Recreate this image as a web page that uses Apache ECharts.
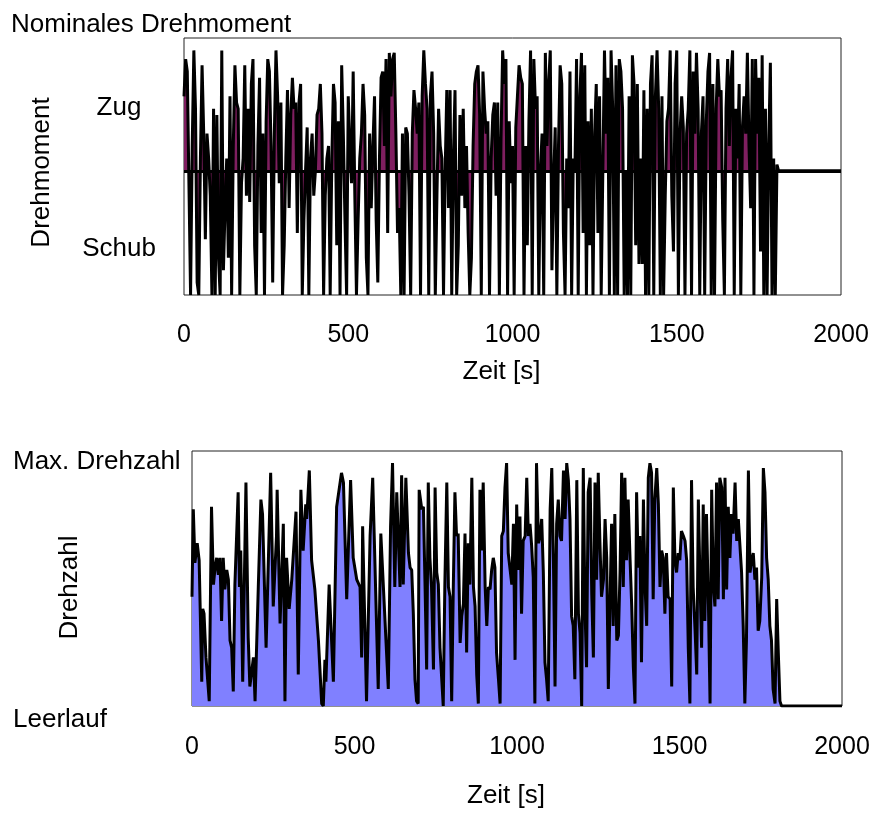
<!DOCTYPE html>
<html>
<head>
<meta charset="utf-8">
<script src="https://cdn.jsdelivr.net/npm/echarts@6/dist/echarts.min.js"></script>
<style>
html,body{margin:0;padding:0;background:#fff;}
#c{width:875px;height:814px;}
</style>
</head>
<body>
<div id="c"></div>
<script>
// ---------- data ----------
const chartTitle = 'Nominales Drehmoment';
const xTicks = [0, 500, 1000, 1500, 2000];
const xName = 'Zeit [s]';
const torqueName = 'Drehmoment';
const speedName = 'Drehzahl';
const torqueLabels = ['Zug', 'Schub'];
const torqueLabelValues = [0.51, -0.63];
const speedLabels = ['Max. Drehzahl', 'Leerlauf'];

// torque, sampled every 5 s from 0 s to 1810 s
const torqueStep = 5;
const torqueValues = [
 0.6,0.9,0.8,-0.1,-1,0.2,0.97,0.5,-0.9,-1,
 0.1,0.85,0.3,-0.55,0.3,0.1,-0.2,-1,0.5,-1,
 0.45,-0.7,-1,0.97,-0.8,-0.3,0.1,-0.7,0.6,-1,
 0.2,0.85,0.55,0.5,-1,-0.1,0.1,0.85,-0.2,0.5,
 -0.25,0.7,0.9,-0.6,-1,0.2,0.75,-0.5,0.3,-1,
 0.4,0.9,0.8,0.2,-0.9,0.3,0.97,0.6,-0.1,0.55,
 -1,-0.6,0.1,0.65,-0.3,0.45,0.75,0.5,0.55,-0.5,
 0.55,0.7,-1,-0.4,0.0,0.35,-1,0.1,0.3,-0.2,
 0.0,0.45,0.5,0.7,0.3,-1,-0.2,0.1,0.2,-1,
 0.1,0.7,0.55,-0.6,0.4,-1,0.85,0.3,-0.4,-1,
 0.6,0.2,-0.1,0.8,-0.2,-1,-0.4,0.1,0.3,0.7,
 0.45,-0.7,-1,0.3,-0.3,0.2,0.6,-0.4,-0.9,0.1,
 0.75,0.8,0.2,0.9,-0.5,0.95,0.6,0.9,0.95,0.3,
 -0.5,-0.3,-1,0.3,
 -1,0.35,0.3,-0.2,-1,0.3,0.65,0.5,0.3,0.55,
 -1,0.6,0.97,0.7,0.5,-1,0.6,0.8,0.3,-1,
 -0.2,0.5,0.2,0.1,-1,0.0,0.65,-0.3,0.65,-1,
 0.1,0.65,-1,-0.6,0.45,-0.2,0.5,-0.3,0.2,-0.5,
 -1,-0.7,0.2,0.7,0.8,0.85,0.45,-1,0.8,0.5,
 0.3,0.4,-1,0.1,0.45,0.55,-0.2,0.55,-1,0.25,
 0.97,0.7,0.9,-1,0.4,-0.1,0.2,-1,0.35,0.6,
 0.85,0.75,0.7,-1,0.2,-0.6,0.4,0.97,-1,0.9,
 0.5,0.6,-1,0.0,0.3,-1,0.95,0.2,0.7,0.97,
 -0.8,-0.1,0.35,-1,0.2,0.85,0.7,-0.5,-1,0.1,
 -0.3,0.8,-1,0.1,0.0,0.9,-1,0.6,0.95,-0.5,
 0.85,-1,0.4,-0.6,0.5,-1,0.3,0.7,-0.5,0.6,
 -1,0.0,0.97,0.3,0.75,-1,0.97,0.5,-1,0.85,
 -1,0.9,0.8,0.5,-1,0.0,-1,0.6,-1,0.93,
 0.7,-0.6,0.7,-0.75,0.1,-0.75,0.65,-1,0.5,-1,
 0.7,0.93,-1,0.6,0.97,0.5,-1,0.6,-1,-0.2,
 0.4,0.5,0.97,-0.2,-0.65,0.7,0.97,-1,0.3,0.6,
 0.35,-1,0.3,0.5,0.97,-1,0.8,0.3,0.95,0.5,
 -1,0.3,0.6,-1,0.4,0.8,0.95,-1,0.7,-1,
 0.5,0.9,0.6,0.65,-0.4,-1,0.5,0.9,0.2,0.75,
 0.97,-1,0.5,0.1,0.7,-1,0.35,0.6,0.3,0.95,
 0.2,-0.3,0.9,-1,0.9,0.3,0.75,-0.65,0.93,-1,
 0.5,-1,0.2,0.87,-1,0.1,-1,0.05,0
];
const torqueTailTime = [2000];
const torqueTailValue = [0];

// speed (times in s, values relative: 0 = idle, 1 = max)
const speedTime = [
 0,4,9,16,22,30,33,37,43,53,60,66,71,76,81,86,91,96,101,107,
 112,117,122,127,132,142,146,150,156,166,173,178,184,189,194,204,212,217,228,242,
 250,260,262,271,276,281,286,291,299,307,320,327,335,342,350,353,361,368,378,389,
 399,404,409,412,422,435,445,460,466,476,488,496,507,517,522,525,537,548,556,573,
 581,604,611,617,624,630,
 640,645,650,658,666,671,676,681,686,691,696,699,707,712,717,722,727,732,737,743,
 748,753,758,763,773,778,784,789,794,799,804,809,814,819,825,830,835,840,845,850,
 855,861,866,871,876,881,886,891,896,902,907,912,917,922,927,932,937,943,948,953,
 958,963,968,973,984,989,994,999,1004,1009,1014,1019,1025,1030,1035,1040,1045,1050,1055,1060,
 1066,1071,1076,1081,1086,1091,1096,1102,1107,1112,1117,1122,1127,1132,1137,1143,1148,1153,1158,1163,
 1168,1173,1178,1184,1189,1194,1199,1204,1209,1214,1219,1225,1230,1235,1240,1245,1250,1255,1260,1266,
 1271,1276,1281,
 1286,1291,1296,1301,1307,1312,1317,1322,1327,1332,1337,1342,1348,1353,1358,1363,1368,1373,1378,1383,
 1389,1394,1399,1404,1409,1414,1419,1424,1430,1435,1440,1445,1450,1455,1460,1465,1471,1476,1481,1486,
 1491,1496,1501,1506,1512,1517,1522,1527,1532,1537,1542,1548,1553,1558,1563,1568,1573,1578,1583,1589,
 1594,1599,1604,1609,1614,1619,1624,1630,1635,1640,1645,1650,1655,1660,1665,1671,1676,1681,1686,1691,
 1696,1701,1706,1712,1717,1722,1727,1732,1737,1742,1747,1753,1758,1763,1768,1773,1778,1783,1788,1794,
 1799,1804,1809,1814,2000
];
const speedValue = [
 0.45,0.81,0.59,0.67,0.6,0.1,0.4,0.38,0.2,0.02,0.82,0.5,0.57,0.61,0.54,0.61,0.35,0.61,0.48,0.56,
 0.52,0.27,0.24,0.06,0.5,0.88,0.49,0.64,0.1,0.92,0.28,0.08,0.08,0.2,0.02,0.49,0.85,0.79,0.24,0.96,
 0.41,0.7,0.89,0.34,0.54,0.75,0.02,0.61,0.4,0.52,0.8,0.13,0.89,0.64,0.83,0.77,0.97,0.6,0.48,0.27,
 0.01,0.0,0.19,0.1,0.5,0.1,0.82,0.96,0.92,0.44,0.93,0.61,0.52,0.49,0.2,0.74,0.02,0.7,0.94,0.07,
 0.71,0.07,0.74,1.0,0.49,0.88,
 0.49,0.95,0.5,0.94,0.63,0.57,0.56,0.38,0.11,0.02,0.01,0.89,0.81,0.82,0.5,0.15,0.92,0.61,0.49,0.15,
 0.9,0.55,0.5,0.24,0,0.5,0.92,0.49,0.45,0.02,0.49,0.88,0.7,0.71,0.26,0.37,0.42,0.71,0.22,0.67,
 0.5,0.94,0.49,0.41,0.13,0.01,0.89,0.64,0.92,0.49,0.33,0.49,0.48,0.56,0.61,0.57,0.22,0.11,0.01,0.7,
 0.72,0.9,1.0,0.63,0.5,0.75,0.19,0.83,0.56,0.78,0.38,0.68,0.7,0.94,0.7,0.75,0.66,0.53,0.01,1.0,
 0.67,0.7,0.77,0.55,0.18,0.11,0.02,0.81,0.98,0.61,0.08,0.75,0.85,0.7,0.68,0.97,0.77,1.0,0.93,0.77,
 0.37,0.33,0.11,0.93,0.38,0.3,0,0.98,0.41,0.16,0.88,0.94,0.46,0.2,0.92,0.52,0.96,0.68,0.45,0.52,
 0.77,0.61,0.07,
 0.07,0.75,0.33,0.79,0.27,0.29,0.55,0.96,0.49,0.94,0.6,0.85,0.6,0.41,0.16,0.01,0.88,0.57,0.7,0.18,
 0.85,0.49,0.33,0.94,1.0,0.96,0.44,0.85,0.98,0.83,0.49,0.64,0.61,0.38,0.63,0.45,0.44,0.08,0.9,0.6,
 0.55,0.63,0.6,0.72,0.7,0.68,0.6,0.24,0.01,0.93,0.49,0.31,0.13,0.85,0.52,0.24,0.83,0.35,0.79,0.42,
 0.01,0.89,0.5,0.41,0.92,0.44,0.94,0.9,0.44,0.94,0.48,0.82,0.61,0.79,0.71,0.92,0.68,0.77,0.77,0.55,
 0.33,0.01,0.27,0.97,0.55,0.6,0.63,0.52,0.57,0.31,0.35,0.53,0.98,0.88,0.61,0.52,0.33,0.27,0.07,0.01,
 0.44,0.22,0.02,0,0
];

// ---------- build ----------
const torqueData = torqueValues.map((v, i) => [i * torqueStep, v]);
torqueTailTime.forEach((t, i) => torqueData.push([t, torqueTailValue[i]]));
const speedData = speedTime.map((t, i) => [t, speedValue[i]]);

const FONT = "'Liberation Sans', Arial, sans-serif";
const txt = { fontFamily: FONT, fontSize: 26, color: '#000' };
const numTxt = { fontFamily: FONT, fontSize: 25, color: '#000' };

const chart = echarts.init(document.getElementById('c'), null, { renderer: 'canvas' });

const xAxisCommon = {
  type: 'value', min: 0, max: 2000, interval: 500,
  axisLine: { show: false }, axisTick: { show: false }, splitLine: { show: false },
  name: xName, nameLocation: 'middle',
  nameTextStyle: Object.assign({ padding: [0, 22, 0, 0] }, txt)
};

chart.setOption({
  animation: false,
  backgroundColor: '#fff',
  title: { text: chartTitle, left: 6, top: 7, textStyle: Object.assign({ fontWeight: 'normal' }, txt) },
  grid: [
    { left: 184, top: 38, width: 657, height: 257, show: true, borderColor: '#222', borderWidth: 1, backgroundColor: 'transparent' },
    { left: 192, top: 451, width: 650, height: 255, show: true, borderColor: '#222', borderWidth: 1, backgroundColor: 'transparent' }
  ],
  xAxis: [
    Object.assign({}, xAxisCommon, { gridIndex: 0, nameGap: 64,
      axisLabel: Object.assign({ margin: 28, customValues: xTicks, formatter: v => String(v) }, numTxt) }),
    Object.assign({}, xAxisCommon, { gridIndex: 1, nameGap: 77,
      axisLabel: Object.assign({ margin: 29, customValues: xTicks, formatter: v => String(v) }, numTxt) })
  ],
  yAxis: [
    { type: 'value', gridIndex: 0, min: -1, max: 1.07,
      axisLine: { show: false }, axisTick: { show: false }, splitLine: { show: false },
      axisLabel: Object.assign({ customValues: torqueLabelValues, margin: 65, align: 'center',
        formatter: v => torqueLabels[torqueLabelValues.indexOf(v)] || '' }, txt),
      name: torqueName, nameLocation: 'middle', nameRotate: 90, nameGap: 129,
      nameTextStyle: Object.assign({ padding: [0, 12, 0, 0] }, txt) },
    { type: 'value', gridIndex: 1, min: 0, max: 1.05,
      axisLine: { show: false }, axisTick: { show: false }, splitLine: { show: false },
      axisLabel: { show: false },
      name: speedName, nameLocation: 'middle', nameRotate: 90, nameGap: 109,
      nameTextStyle: Object.assign({ padding: [0, 18, 0, 0] }, txt) }
  ],
  graphic: [
    { type: 'text', left: 13, top: 449, style: { text: speedLabels[0], fill: '#000', font: '26px ' + FONT } },
    { type: 'text', left: 13, top: 707, style: { text: speedLabels[1], fill: '#000', font: '26px ' + FONT } }
  ],
  series: [
    { type: 'line', xAxisIndex: 0, yAxisIndex: 0, data: torqueData,
      showSymbol: false, symbol: 'none',
      lineStyle: { color: '#000', width: 3 },
      areaStyle: { color: '#7f1f60', opacity: 1 },
      markLine: { silent: true, symbol: 'none', label: { show: false },
        lineStyle: { color: '#000', width: 3, type: 'solid' },
        data: [{ yAxis: 0 }] } },
    { type: 'line', xAxisIndex: 1, yAxisIndex: 1, data: speedData,
      showSymbol: false, symbol: 'none',
      lineStyle: { color: '#000', width: 3 },
      areaStyle: { color: '#8080ff', opacity: 1 } }
  ]
});
</script>
</body>
</html>
